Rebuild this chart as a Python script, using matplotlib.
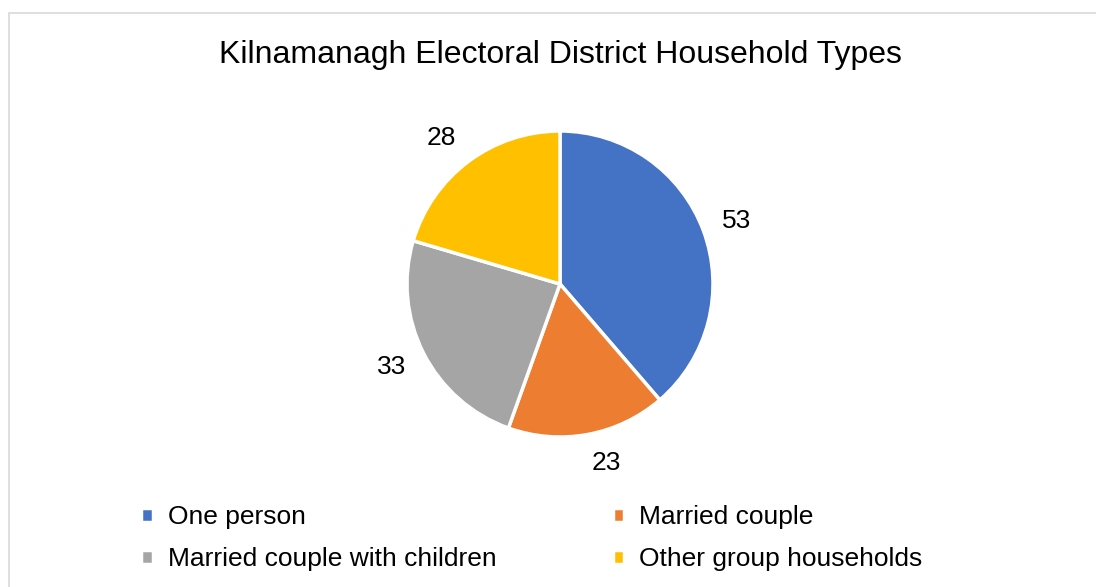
import matplotlib.pyplot as plt
from matplotlib.patches import Rectangle

categories = ["One person", "Married couple", "Married couple with children", "Other group households"]
values = [53, 23, 33, 28]
colors = ["#4472C4", "#ED7D31", "#A5A5A5", "#FFC000"]

plt.rcParams['font.family'] = ['Liberation Sans', 'DejaVu Sans']

fig = plt.figure(figsize=(10.96, 5.87), dpi=100)
fig.patches.append(Rectangle((9 / 1096, -0.1), 1.2, 1 - 13 / 587 + 0.1, transform=fig.transFigure,
                             fill=False, edgecolor='#D9D9D9', linewidth=1.2))

fig.text(0.511, 0.907, "Kilnamanagh Electoral District Household Types", ha='center', va='center', fontsize=23)

# pie centre ~ (560, 284), radius ~153 px; pie() pads limits to +-1.25
r = 153 * 1.25
cx, cy = 560, 284
ax = fig.add_axes([(cx - r) / 1096, 1 - (cy + r) / 587, 2 * r / 1096, 2 * r / 587])
wedges, texts = ax.pie(values, colors=colors, startangle=90, counterclock=False,
                       labels=[str(v) for v in values], labeldistance=1.13,
                       wedgeprops=dict(edgecolor='white', linewidth=2.5),
                       textprops=dict(fontsize=19))
# Excel pushes the outside labels a bit further up/down
for t in texts:
    x, y = t.get_position()
    t.set_position((x, y * 1.055))
ax.set_aspect('equal')

# legend fills column-wise, so reorder to read row by row
order = [0, 2, 1, 3]
leg = fig.legend([wedges[i] for i in order], [categories[i] for i in order],
                 loc='upper left', bbox_to_anchor=(0.117, 0.162), ncol=2,
                 frameon=False, fontsize=19, handlelength=0.45, handleheight=0.45,
                 handletextpad=0.55, columnspacing=4.4, labelspacing=0.68, borderpad=0)

fig.savefig("out.png", dpi=100)
